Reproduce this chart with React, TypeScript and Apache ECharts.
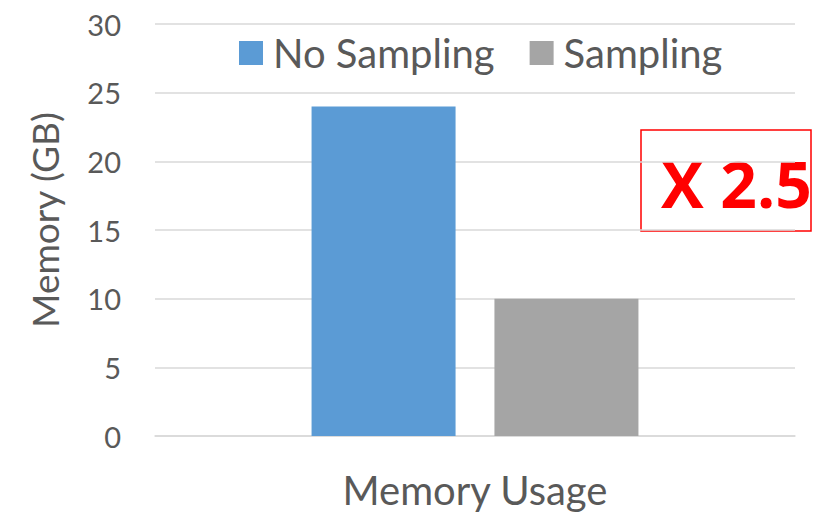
import React, { useEffect, useRef } from "react";
import * as echarts from "echarts";

const categories = ["Memory Usage"];
const seriesNames = ["No Sampling", "Sampling"];
const noSampling = [24];
const sampling = [10];
const yTicks = { min: 0, max: 30, interval: 5 };
const ratioLabel = "X 2.5";
const yAxisTitle = "Memory (GB)";

const FONT = "Lato, 'Open Sans', sans-serif";
const TEXT = "#595959";

export default function App() {
  const ref = useRef<HTMLDivElement>(null);

  useEffect(() => {
    if (!ref.current) return;
    const chart = echarts.init(ref.current, undefined, { renderer: "svg" });
    chart.setOption({
      animation: false,
      backgroundColor: "#ffffff",
      textStyle: { fontFamily: FONT },
      grid: { left: 155, right: 23, top: 24, bottom: 78, containLabel: false },
      legend: {
        data: seriesNames,
        top: 28,
        left: 234,
        itemWidth: 24,
        itemHeight: 24,
        itemGap: 35,
        icon: "rect",
        textStyle: {
          fontSize: 40,
          color: TEXT,
          fontFamily: FONT,
          padding: [0, 0, 0, 5],
        },
      },
      xAxis: {
        type: "category",
        data: categories,
        axisLine: { show: true, lineStyle: { color: "#d9d9d9", width: 1.5 } },
        axisTick: { show: false },
        axisLabel: {
          fontSize: 40,
          color: TEXT,
          margin: 34,
          fontFamily: FONT,
        },
      },
      yAxis: {
        type: "value",
        min: yTicks.min,
        max: yTicks.max,
        interval: yTicks.interval,
        axisLine: { show: false },
        axisTick: { show: false },
        axisLabel: { fontSize: 29, color: TEXT, margin: 34, fontFamily: FONT },
        splitLine: { lineStyle: { color: "#d9d9d9", width: 1.5 } },
      },
      series: [
        {
          name: seriesNames[0],
          type: "bar",
          data: noSampling,
          barWidth: 144,
          barGap: "27%",
          itemStyle: { color: "#5b9bd5" },
        },
        {
          name: seriesNames[1],
          type: "bar",
          data: sampling,
          barWidth: 144,
          itemStyle: { color: "#a5a5a5" },
        },
      ],
      graphic: [
        {
          type: "text",
          x: 44,
          y: 220,
          rotation: Math.PI / 2,
          style: {
            text: yAxisTitle,
            fontSize: 37,
            fontFamily: FONT,
            fill: TEXT,
            align: "center",
            verticalAlign: "middle",
          },
        },
        {
          type: "rect",
          shape: { x: 641, y: 130, width: 170, height: 101 },
          style: { fill: "none", stroke: "#ff0000", lineWidth: 1.5 },
        },
        {
          type: "text",
          x: 661,
          y: 183,
          style: {
            text: ratioLabel,
            fontSize: 64,
            fontWeight: "bold",
            fontFamily: "'Open Sans', sans-serif",
            fill: "#ff0000",
            align: "left",
            verticalAlign: "middle",
          },
        },
      ],
    });
    return () => chart.dispose();
  }, []);

  return (
    <div
      ref={ref}
      style={{ position: "fixed", left: 0, top: 0, width: 818, height: 514 }}
    />
  );
}
